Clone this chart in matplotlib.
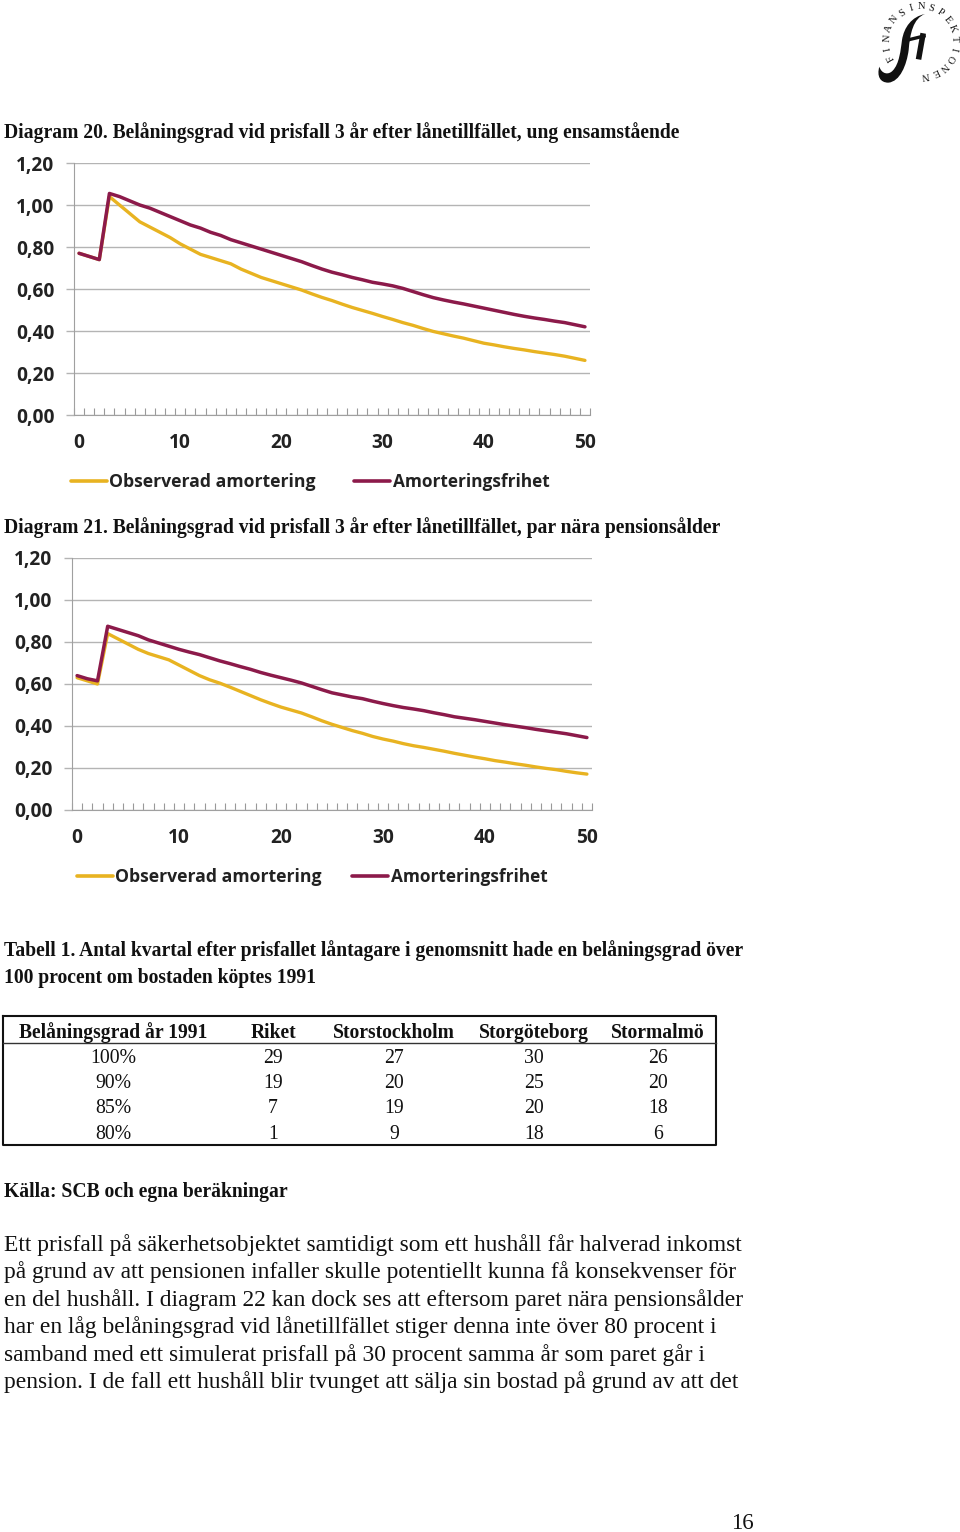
import numpy as np
import matplotlib
matplotlib.use("Agg")
import matplotlib.pyplot as plt
from matplotlib.path import Path
from matplotlib.patches import PathPatch

SERIF = "Liberation Serif"
SANS = "Open Sans"
W, H = 960, 1532

x_vals = list(range(51))
y_ticks = [0, 0.2, 0.4, 0.6, 0.8, 1.0, 1.2]
y_labels = ["0,00", "0,20", "0,40", "0,60", "0,80", "1,00", "1,20"]
x_labels = [0, 10, 20, 30, 40, 50]
legend_names = ["Observerad amortering", "Amorteringsfrihet"]

# diagram 20
obs_20 = [0.77, 0.755, 0.74, 1.04, 1.0, 0.96, 0.92, 0.895, 0.87, 0.845, 0.815, 0.79, 0.765, 0.75, 0.735,
          0.72, 0.695, 0.675, 0.655, 0.64, 0.625, 0.61, 0.595, 0.577, 0.56, 0.545, 0.528, 0.512, 0.498, 0.484,
          0.469, 0.455, 0.44, 0.427, 0.412, 0.398, 0.387, 0.376, 0.366, 0.354, 0.342, 0.334, 0.325, 0.317, 0.31,
          0.302, 0.295, 0.288, 0.28, 0.27, 0.26]
free_20 = [0.77, 0.755, 0.74, 1.055, 1.04, 1.02, 1.0, 0.985, 0.965, 0.945, 0.925, 0.905, 0.89, 0.87, 0.855,
           0.835, 0.82, 0.805, 0.79, 0.775, 0.76, 0.745, 0.73, 0.712, 0.695, 0.68, 0.668, 0.655, 0.644, 0.632,
           0.624, 0.615, 0.603, 0.588, 0.573, 0.559, 0.548, 0.538, 0.529, 0.519, 0.509, 0.499, 0.489, 0.479, 0.47,
           0.462, 0.455, 0.447, 0.44, 0.43, 0.42]

# diagram 21
obs_21 = [0.63, 0.615, 0.6, 0.84, 0.815, 0.79, 0.765, 0.745, 0.73, 0.715, 0.69, 0.665, 0.64, 0.62, 0.604,
          0.585, 0.565, 0.545, 0.525, 0.507, 0.49, 0.476, 0.462, 0.444, 0.425, 0.408, 0.393, 0.378, 0.365, 0.35,
          0.338, 0.328, 0.316, 0.306, 0.298, 0.289, 0.28, 0.27, 0.261, 0.252, 0.244, 0.235, 0.228, 0.22, 0.213,
          0.205, 0.198, 0.192, 0.184, 0.177, 0.171]
free_21 = [0.64, 0.625, 0.615, 0.875, 0.86, 0.845, 0.83, 0.81, 0.795, 0.78, 0.765, 0.752, 0.74, 0.725, 0.71,
           0.697, 0.683, 0.67, 0.655, 0.642, 0.63, 0.618, 0.605, 0.589, 0.573, 0.558, 0.548, 0.538, 0.53, 0.518,
           0.507, 0.497, 0.488, 0.481, 0.473, 0.463, 0.454, 0.444, 0.437, 0.43, 0.422, 0.414, 0.406, 0.399, 0.392,
           0.384, 0.377, 0.37, 0.363, 0.354, 0.345]

table_head = ["Belåningsgrad år 1991", "Riket", "Storstockholm", "Storgöteborg", "Stormalmö"]
table_grad = ["100%", "90%", "85%", "80%"]
table_riket = [29, 19, 7, 1]
table_sthlm = [27, 20, 19, 9]
table_gbg = [30, 25, 20, 18]
table_malmo = [26, 20, 18, 6]

body = ["Ett prisfall på säkerhetsobjektet samtidigt som ett hushåll får halverad inkomst",
        "på grund av att pensionen infaller skulle potentiellt kunna få konsekvenser för",
        "en del hushåll. I diagram 22 kan dock ses att eftersom paret nära pensionsålder",
        "har en låg belåningsgrad vid lånetillfället stiger denna inte över 80 procent i",
        "samband med ett simulerat prisfall på 30 procent samma år som paret går i",
        "pension. I de fall ett hushåll blir tvunget att sälja sin bostad på grund av att det"]

YELLOW = "#e8b321"
RED = "#8c1a4a"
GRID = "#b4b4b4"
DARK = "#222222"

fig = plt.figure(figsize=(W / 100, H / 100), dpi=100)

# overlay in pixel coordinates for the page text
page = fig.add_axes([0, 0, 1, 1])
page.set_xlim(0, W)
page.set_ylim(H, 0)
page.axis("off")


def chart(left, right, top, bottom, obs, free, leg_x):
    ax = fig.add_axes([left / W, 1 - bottom / H, (right - left) / W, (bottom - top) / H])
    ax.plot(x_vals, obs, color=YELLOW, lw=2.4, solid_capstyle="round")
    ax.plot(x_vals, free, color=RED, lw=2.5, solid_capstyle="round")
    ax.set_xlim(-0.5, 50.4)
    ax.set_ylim(0, 1.2)
    ax.set_yticks(y_ticks)
    ax.set_yticklabels(y_labels, fontsize=13.8, fontweight="bold", family=SANS, color=DARK)
    ax.set_xticks(x_labels)
    ax.set_xticklabels(x_labels, fontsize=13.8, fontweight="bold", family=SANS, color=DARK)
    # small ticks stand inside the plot, one per category boundary
    ax.set_xticks(np.arange(-0.5, 50.6, 1), minor=True)
    ax.tick_params(axis="x", which="minor", direction="in", length=5, width=0.8, color="#999999")
    ax.tick_params(axis="x", which="major", length=0, pad=13)
    ax.tick_params(axis="y", length=6, width=1, color=GRID, pad=8)
    ax.grid(axis="y", color=GRID, lw=1)
    ax.set_axisbelow(True)
    for s in ["top", "right"]:
        ax.spines[s].set_visible(False)
    for s in ["left", "bottom"]:
        ax.spines[s].set_color("#a0a0a0")
    # legend
    y = bottom + 66
    page.plot([leg_x[0], leg_x[0] + 36], [y, y], color=YELLOW, lw=2.6, solid_capstyle="round")
    page.text(leg_x[0] + 38, y + 1, legend_names[0], fontsize=12.7, fontweight="bold", family=SANS,
              va="center", color=DARK)
    page.plot([leg_x[1], leg_x[1] + 36], [y, y], color=RED, lw=2.6, solid_capstyle="round")
    page.text(leg_x[1] + 39, y + 1, legend_names[1], fontsize=12.4, fontweight="bold", family=SANS,
              va="center", color=DARK)


chart(74, 590, 163, 415, obs_20, free_20, (71, 354))
chart(72, 592, 558, 810, obs_21, free_21, (77, 352))


def bold(x, y, s, size=14.15):
    page.text(x, y, s, fontsize=size, fontweight="bold", family=SERIF, va="baseline", color="#111111")


bold(4, 138, "Diagram 20. Belåningsgrad vid prisfall 3 år efter lånetillfället, ung ensamstående")
bold(4, 533, "Diagram 21. Belåningsgrad vid prisfall 3 år efter lånetillfället, par nära pensionsålder")
bold(4, 956, "Tabell 1. Antal kvartal efter prisfallet låntagare i genomsnitt hade en belåningsgrad över")
bold(4, 983, "100 procent om bostaden köptes 1991")
bold(4, 1197, "Källa: SCB och egna beräkningar")

# table
col_x = [113, 273, 394, 534, 658]
row_y = [1063, 1088, 1113, 1139]
for cx, h in zip(col_x, table_head):
    page.text(cx, 1038, h, fontsize=14.1, fontweight="bold", family=SERIF, ha="center", va="baseline",
              color="#111111")
columns = [table_grad, table_riket, table_sthlm, table_gbg, table_malmo]
for cx, col in zip(col_x, columns):
    for ry, v in zip(row_y, col):
        page.text(cx, ry, str(v), fontsize=14.2, family=SERIF, ha="center", va="baseline", color="#111111")
page.plot([3, 716, 716, 3, 3], [1016, 1016, 1145, 1145, 1016], color="#111111", lw=1.5)
page.plot([3, 716], [1043, 1043], color="#333333", lw=1)

for i, line in enumerate(body):
    page.text(4, 1251 + i * 27.4, line, fontsize=16.95, family=SERIF, va="baseline", color="#111111")

page.text(742, 1529, "16", fontsize=16.5, family=SERIF, ha="center", va="baseline", color="#111111")

# logo: letters on a ring round the fi mark
ring = "FINANSINSPEKTIONEN"
cx, cy, r = 921, 41, 34
angles = np.linspace(210, -82, len(ring))
for ch, a in zip(ring, angles):
    t = np.deg2rad(a)
    page.text(cx + r * np.cos(t), cy - r * np.sin(t), ch, fontsize=7.5, family=SERIF, ha="center", va="center",
              rotation=a - 90, color="#111111")


# the fi mark, outline taken from the crop of the logo (crop units are 1/3 px)
def lg(p):
    return (860 + p[0] / 3, p[1] / 3)


stem = [(195, 42), (160, 55), (150, 100), (146, 150), (140, 195), (120, 245), (85, 248), (60, 248), (50, 228),
        (58, 200), (65, 222), (85, 226), (98, 212), (118, 192), (122, 150), (126, 120), (132, 82), (155, 50),
        (195, 42)]
codes = [Path.MOVETO] + [Path.CURVE4] * (len(stem) - 1)
page.add_patch(PathPatch(Path([lg(p) for p in stem], codes), fc="#111111", ec="none"))
page.plot(*zip(lg((135, 122)), lg((192, 108))), color="#111111", lw=2.4)
page.plot(*zip(lg((188, 108)), lg((177, 170))), color="#111111", lw=4)

fig.savefig("out.png", dpi=100)
